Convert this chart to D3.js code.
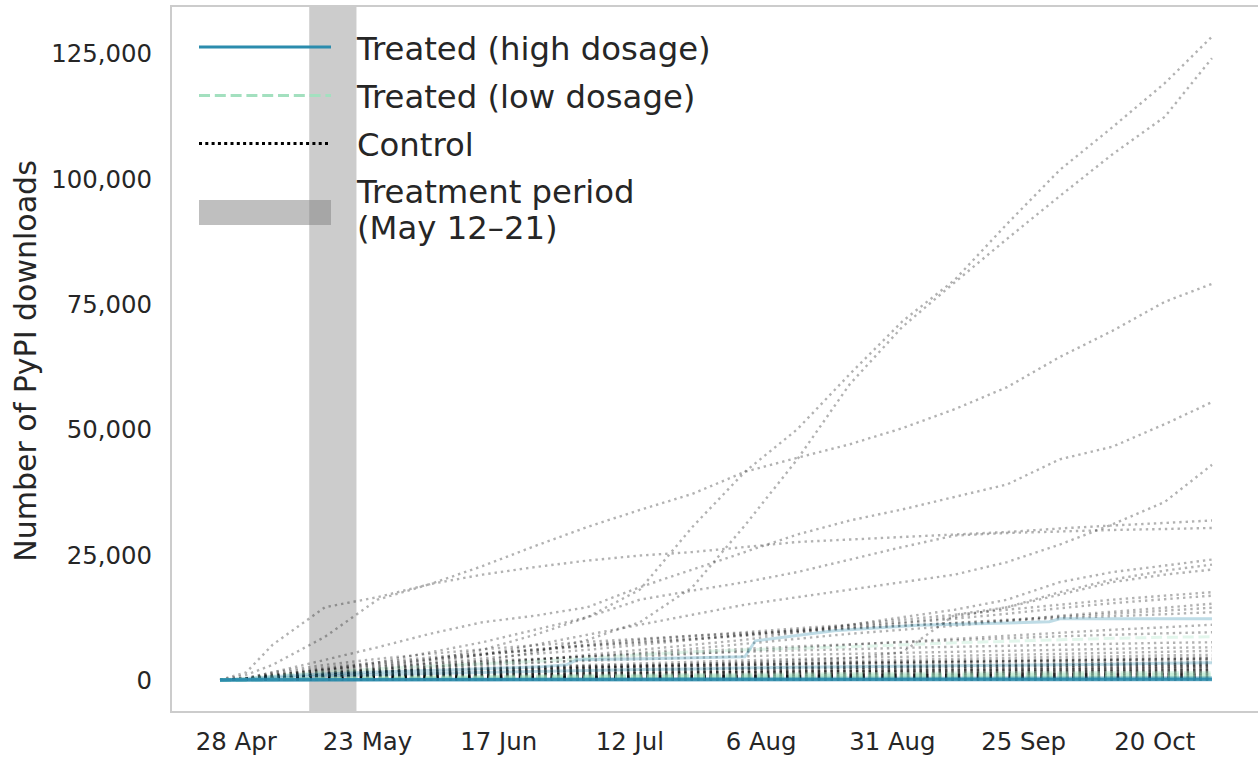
<!DOCTYPE html>
<html>
<head>
    <meta charset="utf-8">
    <script src="https://cdn.jsdelivr.net/npm/d3@7"></script>
    <style>
        body {
            margin: 0;
            background: #fff;
        }

        svg {
            font-family: "DejaVu Sans", sans-serif;
        }

        .tick-label {
            fill: #262626;
            font-size: 24.4px;
        }

        .axis-title {
            fill: #262626;
            font-size: 30px;
        }

        .legend-label {
            fill: #262626;
            font-size: 32.3px;
        }
    </style>
</head>
<body>
<svg id="chart" width="1258" height="757"></svg>

<script>
    // sample dates shared by most series
    var dates = ["2023-04-25", "2023-04-30", "2023-05-05", "2023-05-15", "2023-05-25", "2023-06-04", "2023-06-14",
        "2023-06-24", "2023-07-04", "2023-07-14", "2023-07-24", "2023-08-03", "2023-08-13", "2023-08-23",
        "2023-09-02", "2023-09-12", "2023-09-22", "2023-10-02", "2023-10-12", "2023-10-22", "2023-10-31"];

    // control packages, cumulative downloads
    var controlValues = [
        [0, 100, 300, 1200, 2500, 4000, 6000, 9000, 12500, 18000, 30500, 41500, 50000, 61000, 71500, 79800, 91000, 101700, 110200, 119000, 128300],
        [0, 100, 200, 700, 1500, 2500, 3800, 5500, 8000, 11500, 18500, 30800, 44000, 59000, 70400, 79300, 88000, 96500, 104800, 112300, 124000],
        [0, 1500, 7000, 14500, 16500, 19100, 22700, 26700, 30500, 33900, 37100, 41500, 44300, 47000, 50200, 54000, 58400, 64400, 69600, 75400, 79000],
        [0, 1000, 3000, 8600, 16000, 19100, 21000, 22500, 23800, 24800, 25500, 26500, 27500, 28000, 28500, 29000, 29500, 30200, 30800, 31300, 31800],
        [0, 300, 1500, 4000, 6500, 9200, 11500, 12800, 14500, 18500, 22000, 25500, 29000, 31800, 34000, 36500, 39000, 44000, 46500, 51000, 55400],
        [0, 100, 300, 1000, 2000, 3500, 5000, 7000, 9000, 11000, 13000, 15000, 16500, 18000, 19500, 21000, 23500, 27000, 31000, 35500, 42900],
        [0, 200, 800, 2000, 3500, 5500, 7500, 10000, 12500, 16000, 17800, 19500, 21500, 24000, 26500, 28800, 29300, 29600, 29900, 30100, 30300],
        [0, 100, 300, 800, 1500, 2300, 3200, 4000, 5000, 6000, 7000, 8000, 9500, 11000, 12500, 14000, 16000, 19500, 21500, 22800, 24000],
        [0, 100, 400, 1200, 2200, 3200, 4300, 5200, 6000, 7000, 8000, 9000, 10000, 10800, 11500, 12500, 14500, 17500, 20000, 21800, 23000],
        [0, 50, 100, 400, 800, 1200, 1600, 2000, 2400, 2800, 3200, 3500, 3900, 4300, 5500, 13000, 14500, 17000, 19500, 21000, 22000],
        [0, 200, 800, 2000, 3000, 4000, 5000, 6000, 7000, 8000, 8800, 9500, 10300, 11000, 12000, 13000, 14000, 15000, 16000, 16800, 17500],
        [0, 300, 1200, 2500, 3500, 4500, 5300, 6100, 6900, 7600, 8300, 9000, 9800, 10500, 11300, 12200, 13200, 14300, 15300, 16100, 16800],
        [0, 100, 500, 1200, 1900, 2600, 3300, 4000, 4700, 5400, 6200, 7200, 8200, 9200, 10000, 10800, 11800, 12800, 13600, 14400, 15200],
        [0, 200, 1000, 2200, 3200, 4200, 5100, 5900, 6700, 7400, 8100, 8800, 9500, 10200, 10800, 11400, 12000, 12600, 13200, 13800, 14400],
        [0, 400, 1500, 3000, 4200, 5200, 6100, 6900, 7600, 8200, 8800, 9300, 9800, 10300, 10800, 11300, 11800, 12300, 12700, 13100, 13500],
        [0, 100, 400, 1000, 1600, 2200, 2800, 3400, 4000, 4600, 5200, 5800, 6400, 7000, 7600, 8200, 8800, 9400, 10000, 10500, 11000],
        [0, 200, 700, 1500, 2200, 2900, 3500, 4100, 4700, 5200, 5700, 6200, 6700, 7100, 7500, 7900, 8300, 8700, 9000, 9300, 9500],
        [0, 300, 1000, 2000, 2700, 3300, 3800, 4200, 4600, 5000, 5300, 5600, 5900, 6100, 6400, 6600, 6800, 7000, 7200, 7400, 7500],
        [0, 200, 800, 1600, 2200, 2700, 3100, 3500, 3800, 4100, 4400, 4700, 5000, 5200, 5400, 5600, 5800, 6000, 6200, 6400, 6500],
        [0, 100, 500, 1100, 1600, 2000, 2400, 2700, 3000, 3300, 3600, 3900, 4200, 4400, 4600, 4800, 5000, 5200, 5400, 5600, 5800],
        [0, 200, 600, 1200, 1600, 1900, 2200, 2500, 2800, 3000, 3200, 3400, 3600, 3800, 4000, 4200, 4400, 4600, 4700, 4900, 5000],
        [0, 100, 400, 900, 1300, 1600, 1900, 2200, 2400, 2600, 2800, 3000, 3200, 3400, 3600, 3800, 3900, 4100, 4200, 4400, 4500],
        [0, 200, 700, 1300, 1700, 2000, 2300, 2500, 2700, 2900, 3000, 3200, 3300, 3500, 3600, 3700, 3800, 3900, 4000, 4100, 4200],
        [0, 300, 900, 1500, 1800, 2000, 2200, 2400, 2600, 2700, 2900, 3000, 3200, 3300, 3400, 3500, 3600, 3700, 3800, 3900, 4000],
        [0, 100, 300, 700, 1000, 1300, 1500, 1700, 1900, 2100, 2300, 2400, 2600, 2700, 2800, 2900, 3000, 3200, 3300, 3400, 3500],
        [0, 100, 400, 800, 1100, 1300, 1500, 1700, 1800, 2000, 2100, 2300, 2400, 2500, 2600, 2700, 2800, 2900, 3000, 3100, 3200],
        [0, 200, 600, 1000, 1300, 1500, 1700, 1800, 1900, 2000, 2100, 2200, 2300, 2400, 2500, 2600, 2700, 2800, 2900, 2950, 3000],
        [0, 100, 300, 600, 900, 1100, 1300, 1400, 1500, 1600, 1700, 1800, 1900, 2000, 2100, 2200, 2300, 2400, 2500, 2650, 2800],
        [0, 100, 300, 600, 800, 1000, 1100, 1200, 1300, 1400, 1500, 1600, 1700, 1800, 1900, 2000, 2100, 2200, 2300, 2450, 2600],
        [0, 100, 400, 700, 900, 1000, 1100, 1200, 1300, 1400, 1500, 1550, 1600, 1700, 1750, 1800, 1900, 1950, 2000, 2100, 2200],
        [0, 100, 300, 500, 700, 800, 900, 1000, 1100, 1200, 1300, 1400, 1450, 1500, 1600, 1650, 1700, 1800, 1850, 1900, 2000],
        [0, 50, 200, 400, 500, 600, 700, 800, 850, 900, 1000, 1050, 1100, 1200, 1250, 1300, 1400, 1500, 1600, 1700, 1800],
        [0, 100, 300, 500, 600, 700, 750, 800, 850, 900, 950, 1000, 1050, 1100, 1150, 1200, 1250, 1300, 1350, 1420, 1500],
        [0, 50, 200, 350, 450, 550, 600, 650, 700, 750, 800, 850, 900, 950, 1000, 1050, 1100, 1150, 1200, 1250, 1300],
        [0, 50, 150, 300, 400, 450, 500, 550, 600, 650, 700, 750, 800, 850, 900, 950, 1000, 1050, 1100, 1150, 1200],
        [0, 100, 250, 400, 450, 500, 550, 600, 620, 650, 680, 700, 730, 760, 800, 830, 860, 900, 930, 970, 1000],
        [0, 30, 100, 200, 250, 300, 350, 380, 420, 450, 480, 500, 530, 560, 600, 630, 660, 700, 730, 770, 800],
        [0, 50, 150, 220, 260, 290, 320, 340, 360, 380, 400, 420, 440, 460, 480, 500, 520, 540, 560, 580, 600],
        [0, 40, 100, 180, 220, 250, 270, 290, 310, 330, 350, 360, 380, 390, 410, 420, 440, 460, 470, 490, 500],
        [0, 20, 60, 120, 150, 170, 190, 210, 230, 250, 260, 280, 290, 300, 320, 330, 340, 360, 370, 390, 400],
        [0, 20, 50, 100, 130, 150, 160, 180, 190, 200, 210, 220, 230, 240, 250, 260, 270, 280, 285, 295, 300],
        [0, 10, 40, 80, 100, 110, 120, 130, 140, 150, 160, 170, 180, 190, 200, 210, 220, 230, 240, 245, 250],
        [0, 5, 15, 30, 40, 45, 50, 55, 60, 65, 70, 72, 75, 78, 80, 85, 88, 90, 95, 98, 100],
        [0, 150, 500, 900, 1200, 1400, 1600, 1750, 1900, 2000, 2150, 2250, 2350, 2450, 2550, 2650, 2750, 2850, 2950, 3050, 3100],
        [0, 120, 400, 750, 1000, 1200, 1350, 1500, 1600, 1700, 1800, 1900, 2000, 2100, 2200, 2250, 2350, 2450, 2500, 2600, 2700],
        [0, 80, 300, 600, 800, 950, 1100, 1200, 1300, 1400, 1500, 1600, 1650, 1750, 1800, 1900, 1950, 2050, 2100, 2200, 2300],
        [0, 60, 250, 500, 650, 800, 900, 1000, 1100, 1150, 1250, 1300, 1400, 1450, 1500, 1550, 1650, 1700, 1750, 1850, 1900],
        [0, 50, 200, 400, 550, 650, 750, 850, 900, 1000, 1050, 1100, 1150, 1200, 1250, 1300, 1350, 1400, 1450, 1500, 1600],
        [0, 40, 150, 300, 400, 500, 550, 600, 650, 700, 750, 800, 850, 900, 950, 1000, 1050, 1100, 1150, 1200, 1250],
        [0, 30, 120, 250, 330, 400, 450, 500, 550, 600, 640, 680, 720, 760, 800, 840, 880, 920, 950, 990, 1050],
        [0, 25, 100, 200, 270, 320, 360, 400, 440, 480, 510, 540, 570, 600, 630, 660, 690, 720, 750, 780, 850],
        [0, 20, 80, 160, 210, 250, 280, 310, 340, 370, 400, 420, 440, 460, 480, 500, 520, 540, 560, 580, 650],
        [0, 15, 60, 120, 160, 190, 210, 230, 250, 270, 290, 310, 330, 350, 370, 380, 400, 420, 430, 440, 450],
        [0, 10, 40, 90, 120, 140, 160, 180, 190, 200, 215, 230, 240, 250, 260, 270, 280, 290, 300, 310, 350],
        [0, 8, 30, 60, 80, 95, 110, 120, 130, 140, 150, 160, 170, 180, 185, 190, 195, 200, 210, 220, 230],
        [0, 5, 20, 40, 55, 65, 75, 85, 90, 95, 100, 105, 110, 115, 120, 125, 130, 135, 140, 145, 150],
        [0, 3, 10, 20, 25, 30, 35, 40, 42, 45, 48, 50, 52, 55, 58, 60, 62, 65, 68, 70, 75],
        [0, 2, 5, 10, 12, 15, 18, 20, 22, 24, 26, 28, 30, 32, 34, 36, 38, 40, 42, 44, 45],
        [0, 200, 700, 1200, 1500, 1700, 1900, 2100, 2200, 2400, 2500, 2600, 2750, 2850, 2950, 3050, 3150, 3250, 3350, 3450, 3600],
        [0, 150, 500, 1000, 1400, 1700, 2000, 2200, 2400, 2600, 2800, 2950, 3100, 3250, 3400, 3550, 3700, 3850, 4000, 4150, 4300]
    ];

    // treated (high dosage): the package with steps gets its own dates
    var highMainDates = ["2023-04-25", "2023-04-30", "2023-05-10", "2023-05-25", "2023-06-10", "2023-06-25", "2023-06-30",
        "2023-07-02", "2023-07-15", "2023-08-03", "2023-08-05", "2023-08-20", "2023-09-05", "2023-09-20", "2023-09-30",
        "2023-10-02", "2023-10-31"];
    var highMainValues = [0, 300, 1000, 1600, 2100, 2600, 3000, 4000, 4200, 4600, 7800, 9800, 10900, 11300, 11600, 12200, 12200];

    var highValues = [
        [0, 100, 400, 800, 1100, 1300, 1500, 1700, 1900, 2100, 2200, 2400, 2500, 2600, 2700, 2800, 2900, 3000, 3100, 3300, 3400],
        [0, 20, 50, 100, 130, 160, 190, 220, 250, 280, 300, 320, 340, 360, 380, 400, 420, 440, 460, 480, 500],
        [0, 10, 30, 60, 80, 100, 110, 120, 140, 150, 160, 170, 180, 200, 210, 220, 240, 250, 270, 280, 300],
        [0, 10, 20, 40, 50, 60, 70, 80, 90, 100, 110, 120, 130, 140, 150, 160, 170, 180, 185, 195, 200],
        [0, 5, 15, 30, 40, 50, 55, 60, 70, 75, 80, 85, 90, 100, 105, 110, 120, 130, 135, 140, 150],
        [0, 5, 10, 20, 25, 30, 35, 40, 45, 50, 55, 60, 65, 70, 75, 80, 85, 90, 93, 97, 100],
        [0, 2, 5, 10, 15, 18, 20, 22, 25, 28, 30, 33, 36, 40, 42, 45, 48, 52, 55, 58, 60],
        [0, 1, 3, 5, 7, 9, 10, 12, 13, 15, 16, 18, 19, 21, 22, 24, 25, 26, 28, 29, 30],
        [0, 0, 1, 2, 2, 3, 3, 4, 4, 5, 5, 6, 6, 7, 7, 8, 8, 9, 9, 10, 10]
    ];

    // treated (low dosage)
    var lowValues = [
        [0, 300, 800, 1600, 2200, 2700, 3200, 3700, 4300, 5000, 5600, 6000, 6300, 6600, 7000, 7400, 7700, 8000, 8300, 8500, 8600],
        [0, 60, 200, 400, 550, 650, 750, 850, 930, 1000, 1080, 1150, 1210, 1270, 1320, 1370, 1410, 1440, 1470, 1490, 1500],
        [0, 50, 160, 320, 440, 520, 600, 670, 740, 800, 860, 910, 960, 1010, 1050, 1090, 1120, 1150, 1170, 1190, 1200],
        [0, 40, 120, 250, 350, 420, 490, 550, 610, 660, 710, 750, 790, 830, 860, 890, 920, 950, 970, 990, 1000],
        [0, 30, 100, 200, 280, 340, 390, 440, 490, 530, 570, 610, 640, 670, 700, 720, 740, 760, 780, 790, 800],
        [0, 20, 70, 150, 200, 250, 290, 330, 360, 400, 430, 460, 480, 500, 520, 540, 560, 570, 580, 590, 600],
        [0, 10, 50, 100, 140, 170, 190, 220, 240, 260, 280, 300, 320, 330, 340, 350, 360, 370, 380, 390, 400],
        [0, 5, 20, 50, 70, 80, 90, 100, 110, 120, 130, 140, 150, 160, 165, 170, 180, 185, 190, 195, 200]
    ];

    var treatmentPeriod = ["2023-05-12", "2023-05-21"];
    var xTickDates = ["2023-04-28", "2023-05-23", "2023-06-17", "2023-07-12", "2023-08-06", "2023-08-31", "2023-09-25", "2023-10-20"];
    var yTickValues = [0, 25000, 50000, 75000, 100000, 125000];
    var legendLabels = ["Treated (high dosage)", "Treated (low dosage)", "Control"];
    var bandLabel = ["Treatment period", "(May 12\u201321)"];

    var highColor = "#2b8cad",
        lowColor = "#a3e0bf",
        textColor = "#262626";

    var parseDate = d3.timeParse("%Y-%m-%d");

    // plot box (left, top, right, bottom) in page pixels
    var box = {left: 171, top: 6, right: 1262, bottom: 712};

    var x = d3.scaleTime()
        .domain([parseDate(dates[0]), parseDate(dates[dates.length - 1])])
        .range([220, 1212]);

    var y = d3.scaleLinear()
        .domain([-6400, 134400])
        .range([box.bottom, box.top]);

    var svg = d3.select("#chart");

    function toPoints(dateList, values) {
        return values.map(function (v, i) {
            return {date: parseDate(dateList[i]), value: v};
        });
    }

    var line = d3.line()
        .x(function (d) { return x(d.date); })
        .y(function (d) { return y(d.value); });

    // treatment band
    svg.append("rect")
        .attr("x", x(parseDate(treatmentPeriod[0])))
        .attr("y", box.top)
        .attr("width", x(parseDate(treatmentPeriod[1])) - x(parseDate(treatmentPeriod[0])))
        .attr("height", box.bottom - box.top)
        .attr("fill", "gray")
        .attr("fill-opacity", 0.4);

    // control lines
    svg.append("g")
        .selectAll("path")
        .data(controlValues)
        .enter().append("path")
        .attr("d", function (v) { return line(toPoints(dates, v)); })
        .attr("fill", "none")
        .attr("stroke", "#000")
        .attr("stroke-opacity", 0.3)
        .attr("stroke-width", 2.4)
        .attr("stroke-dasharray", "2.4,3.96");

    // low dosage
    svg.append("g")
        .selectAll("path")
        .data(lowValues)
        .enter().append("path")
        .attr("d", function (v) { return line(toPoints(dates, v)); })
        .attr("fill", "none")
        .attr("stroke", lowColor)
        .attr("stroke-opacity", 0.3)
        .attr("stroke-width", 3)
        .attr("stroke-dasharray", "11,4.8");

    // high dosage
    var highGroup = svg.append("g");
    highGroup.append("path")
        .attr("d", line(toPoints(highMainDates, highMainValues)))
        .attr("fill", "none")
        .attr("stroke", highColor)
        .attr("stroke-opacity", 0.3)
        .attr("stroke-width", 3);
    highGroup.selectAll("path.h")
        .data(highValues)
        .enter().append("path")
        .attr("class", "h")
        .attr("d", function (v) { return line(toPoints(dates, v)); })
        .attr("fill", "none")
        .attr("stroke", highColor)
        .attr("stroke-opacity", 0.3)
        .attr("stroke-width", 3);

    // frame
    svg.append("rect")
        .attr("x", box.left)
        .attr("y", box.top)
        .attr("width", box.right - box.left)
        .attr("height", box.bottom - box.top)
        .attr("fill", "none")
        .attr("stroke", "#cccccc")
        .attr("stroke-width", 2);

    // x axis
    var xAxis = d3.axisBottom(x)
        .tickValues(xTickDates.map(parseDate))
        .tickFormat(d3.timeFormat("%-d %b"))
        .tickSize(0)
        .tickPadding(0);

    var gx = svg.append("g")
        .attr("transform", "translate(0," + box.bottom + ")")
        .call(xAxis);
    gx.select(".domain").remove();
    gx.selectAll("text")
        .attr("class", "tick-label")
        .attr("y", 38)
        .attr("dy", 0)
        .style("font-family", "DejaVu Sans")
        .style("font-size", "24.4px")
        .attr("fill", textColor);

    // y axis
    var yAxis = d3.axisLeft(y)
        .tickValues(yTickValues)
        .tickFormat(d3.format(","))
        .tickSize(0)
        .tickPadding(0);

    var gy = svg.append("g")
        .attr("transform", "translate(152,0)")
        .call(yAxis);
    gy.select(".domain").remove();
    gy.selectAll("text")
        .attr("class", "tick-label")
        .attr("x", 0)
        .attr("dy", "0.36em")
        .style("font-family", "DejaVu Sans")
        .style("font-size", "24.4px")
        .attr("fill", textColor);

    svg.append("text")
        .attr("class", "axis-title")
        .attr("transform", "translate(36,361) rotate(-90)")
        .attr("text-anchor", "middle")
        .text("Number of PyPI downloads");

    // legend
    var legend = svg.append("g");
    var handleX0 = 199, handleX1 = 331, labelX = 357;
    var rowLineY = [47, 95.5, 143.5];
    var rowTextY = [60, 107.5, 155.5];
    var handleStyles = [
        {color: highColor, dash: null},
        {color: lowColor, dash: "11,4.8"},
        {color: "#000", dash: "3,3.3"}
    ];

    legendLabels.forEach(function (label, i) {
        legend.append("line")
            .attr("x1", handleX0)
            .attr("x2", handleX1)
            .attr("y1", rowLineY[i])
            .attr("y2", rowLineY[i])
            .attr("stroke", handleStyles[i].color)
            .attr("stroke-width", 3)
            .attr("stroke-dasharray", handleStyles[i].dash);
        legend.append("text")
            .attr("class", "legend-label")
            .attr("x", labelX)
            .attr("y", rowTextY[i])
            .text(label);
    });

    legend.append("rect")
        .attr("x", handleX0)
        .attr("y", 200)
        .attr("width", handleX1 - handleX0)
        .attr("height", 25)
        .attr("fill", "gray")
        .attr("fill-opacity", 0.5);

    legend.append("text")
        .attr("class", "legend-label")
        .attr("x", labelX)
        .attr("y", 203)
        .text(bandLabel[0]);
    legend.append("text")
        .attr("class", "legend-label")
        .attr("x", labelX)
        .attr("y", 239)
        .text(bandLabel[1]);
</script>
</body>
</html>
